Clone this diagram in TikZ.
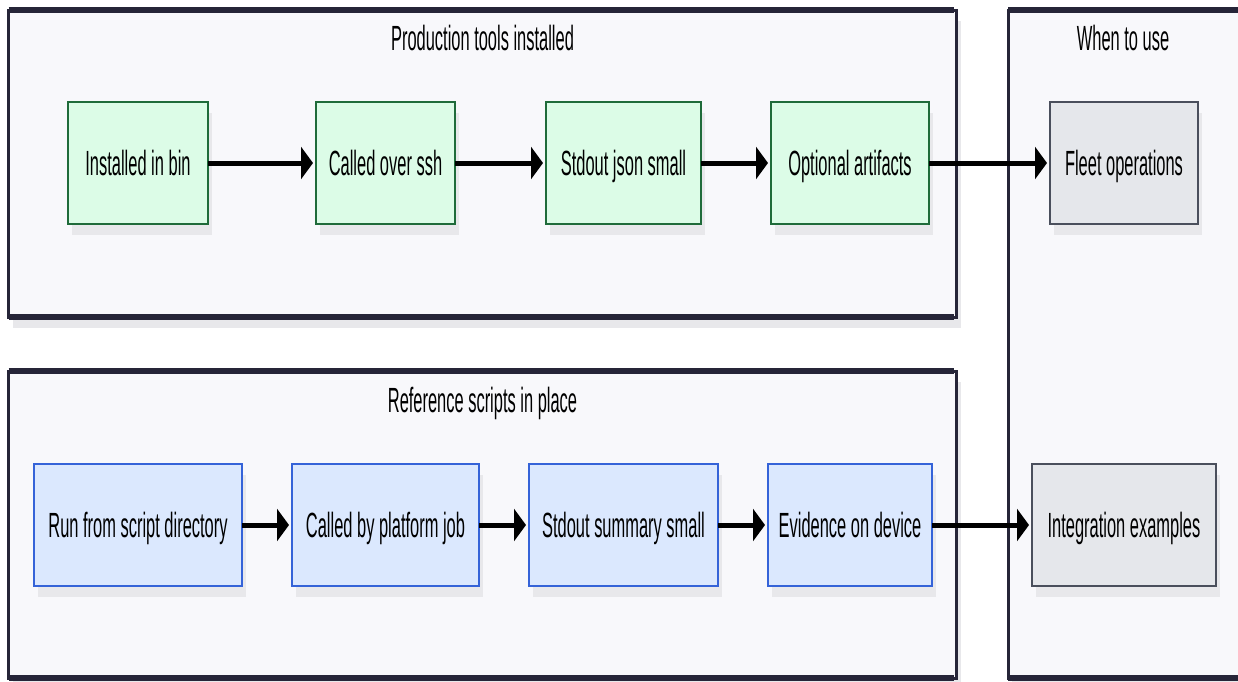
\documentclass[tikz,border=0pt]{standalone}
\usepackage{fontspec}
\newfontfamily\narrowsans{Liberation Sans}[FakeStretch=0.47]
\usetikzlibrary{arrows.meta,positioning,shadows}

\definecolor{groupfill}{HTML}{F8F8FB}
\definecolor{groupline}{HTML}{262538}
\definecolor{shadowgrey}{HTML}{E8E8EB}
\definecolor{greenfill}{HTML}{DCFCE7}
\definecolor{greenline}{HTML}{1F6B3A}
\definecolor{bluefill}{HTML}{DBE8FE}
\definecolor{blueline}{HTML}{3563D8}
\definecolor{greyfill}{HTML}{E5E7EB}
\definecolor{greyline}{HTML}{4A4F5C}

\tikzset{
  flat shadow/.style={drop shadow={shadow xshift=4pt, shadow yshift=-11pt, fill=shadowgrey, opacity=1}},
  group/.style={rectangle, draw=groupline, fill=groupfill, line width=3pt, outer sep=0pt, inner sep=0pt, flat shadow},
  groupedge/.style={draw=groupline, line width=6pt},
  grouptitle/.style={font=\narrowsans\fontsize{35}{40}\selectfont, text height=25pt, text depth=0pt},
  taskbox/.style={rectangle, line width=2pt, minimum height=122pt, outer sep=0pt, flat shadow,
    font=\narrowsans\fontsize{35}{40}\selectfont, text height=25pt, text depth=0pt},
  tool/.style={taskbox, draw=greenline, fill=greenfill},
  script/.style={taskbox, draw=blueline, fill=bluefill},
  usecase/.style={taskbox, draw=greyline, fill=greyfill},
  flow/.style={->, line width=5pt}
}

\begin{document}
\begin{tikzpicture}[x=1pt, y=-1pt, >={Triangle[length=12pt,width=32pt]}, shorten >=3pt]
    \useasboundingbox (0,0) rectangle (1238,681);
    \clip (0,0) rectangle (1238,681);
    \fill [white] (0,0) rectangle (1238,681);

    % Groups {prod, ref, when}
    \node [group, minimum width=948pt, minimum height=307pt]  (prod)  at (482.5,163.5) {};
    \node [group, minimum width=948pt, minimum height=307pt]  (ref)   at (482.5,524.5) {};
    \node [group, minimum width=242pt, minimum height=668pt]  (when)  at (1129,344)    {};
    \foreach \g in {prod, ref, when} {
        \path [groupedge] (\g.north west) -- (\g.north east);
        \path [groupedge] (\g.south west) -- (\g.south east);
    }
    \node [grouptitle]  (prodtitle)  at (482.5,38)  {Production tools installed};
    \node [grouptitle]  (reftitle)   at (482.5,400) {Reference scripts in place};
    \node [grouptitle]  (whentitle)  at (1123,38)   {When to use};

    % Nodes {bin, ssh, json, artifacts, fleet}
    \node [tool, minimum width=140pt]     (bin)        at (138,163)              {Installed in bin};
    \node [tool, minimum width=139pt]     (ssh)        [right=108pt of bin]      {Called over ssh};
    \node [tool, minimum width=155pt]     (json)       [right=91pt of ssh]       {Stdout json small};
    \node [tool, minimum width=158pt]     (artifacts)  [right=70pt of json]      {Optional artifacts};
    \node [usecase, minimum width=148pt]  (fleet)      [right=121pt of artifacts] {Fleet operations};

    % Nodes {run, job, summary, evidence, integration}
    \node [script, minimum width=208pt]   (run)        at (138,525)              {Run from script directory};
    \node [script, minimum width=187pt]   (job)        [right=50pt of run]       {Called by platform job};
    \node [script, minimum width=189pt]   (summary)    [right=50pt of job]       {Stdout summary small};
    \node [script, minimum width=164pt]   (evidence)   [right=50pt of summary]   {Evidence on device};
    \node [usecase, minimum width=184pt]  (integration) [right=100pt of evidence] {Integration examples};

    % Paths
    \path [flow]  (bin)       edge  (ssh);
    \path [flow]  (ssh)       edge  (json);
    \path [flow]  (json)      edge  (artifacts);
    \path [flow]  (artifacts) edge  (fleet);
    \path [flow]  (run)       edge  (job);
    \path [flow]  (job)       edge  (summary);
    \path [flow]  (summary)   edge  (evidence);
    \path [flow]  (evidence)  edge  (integration);

\end{tikzpicture}
\end{document}
